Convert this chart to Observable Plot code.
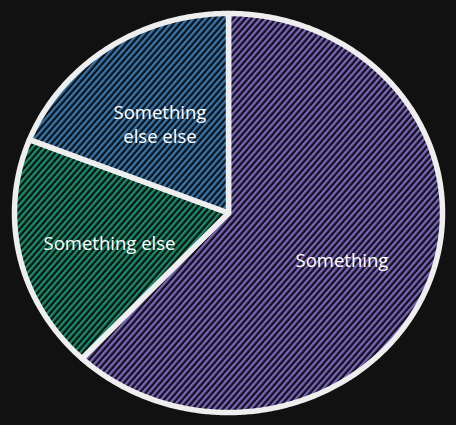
<!DOCTYPE html>
<html>
<head>
<meta charset="utf-8">
<script src="https://cdn.jsdelivr.net/npm/d3@7"></script>
<script src="https://cdn.jsdelivr.net/npm/@observablehq/plot@0.6"></script>
<style>
  html, body { margin: 0; padding: 0; background: #111111; }
  #chart { width: 456px; height: 425px; }
</style>
</head>
<body>
<div id="chart"></div>
<script>
const categories = ["Something", "Something else", "Something else else"];
const labels = ["Something", "Something else", "Something\nelse else"];
const values = [62, 19, 19];
const colors = ["#7a64c4", "#14906a", "#3378b4"];

const arcs = d3.pie().sort(null).startAngle(0)(values);
const patternId = i => `hatch-${i}`;

const outline = [];
arcs.forEach((a, i) => {
  outline.push({k: i, x: 0, y: 0});
  const n = Math.max(2, Math.ceil((a.endAngle - a.startAngle) / 0.01));
  for (let j = 0; j <= n; j++) {
    const t = a.startAngle + (a.endAngle - a.startAngle) * j / n;
    outline.push({k: i, x: Math.sin(t), y: Math.cos(t)});
  }
});

const labelData = arcs.map((a, i) => {
  const m = (a.startAngle + a.endAngle) / 2;
  return {label: labels[i], x: 0.57 * Math.sin(m), y: 0.57 * Math.cos(m)};
});

const plot = Plot.plot({
  width: 456,
  height: 425,
  margin: 0,
  style: {background: "#111111", color: "#ffffff"},
  x: {domain: [-1, 1], range: [14, 442], axis: null},
  y: {domain: [-1, 1], range: [412, 13], axis: null},
  color: {type: "identity"},
  marks: [
    Plot.line(outline, {
      x: "x", y: "y", z: "k",
      fill: d => `url(#${patternId(d.k)})`,
      stroke: "#eeeeee",
      strokeWidth: 5.5,
      strokeLinejoin: "round",
      strokeLinecap: "round",
      curve: "linear-closed"
    }),
    Plot.text(labelData, {
      x: "x", y: "y", text: "label",
      fill: "#ffffff",
      fontSize: 18.5,
      dy: 4,
      fontFamily: "'Open Sans', Lato, sans-serif",
      lineHeight: 1.3
    })
  ]
});

const ns = "http://www.w3.org/2000/svg";
const defs = document.createElementNS(ns, "defs");
colors.forEach((c, i) => {
  const p = document.createElementNS(ns, "pattern");
  p.setAttribute("id", patternId(i));
  p.setAttribute("patternUnits", "userSpaceOnUse");
  p.setAttribute("width", "4.6");
  p.setAttribute("height", "10");
  p.setAttribute("patternTransform", "rotate(41)");
  const r = document.createElementNS(ns, "rect");
  r.setAttribute("width", "4.6"); r.setAttribute("height", "10");
  r.setAttribute("fill", "#111111");
  p.appendChild(r);
  const l = document.createElementNS(ns, "rect");
  l.setAttribute("x", "0"); l.setAttribute("y", "0");
  l.setAttribute("width", "2.3"); l.setAttribute("height", "10");
  l.setAttribute("fill", c);
  p.appendChild(l);
  defs.appendChild(p);
});
plot.insertBefore(defs, plot.firstChild);
document.getElementById("chart").appendChild(plot);
</script>
</body>
</html>
